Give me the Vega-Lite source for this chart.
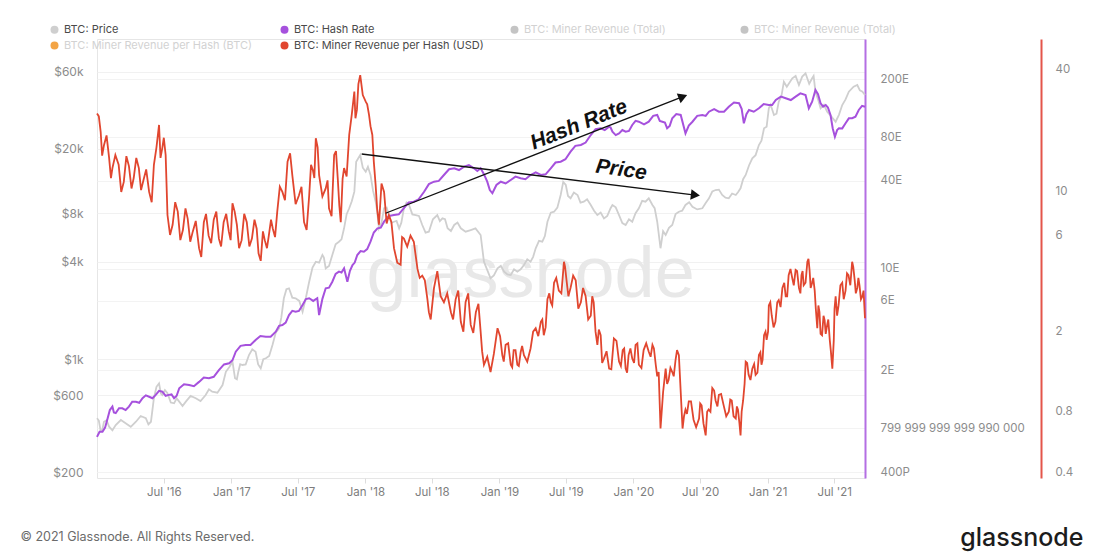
{
  "$schema": "https://vega.github.io/schema/vega-lite/v6.json",
  "width": 768,
  "height": 439,
  "autosize": {"type": "none"},
  "padding": {"left": 97, "top": 39, "right": 235, "bottom": 80},
  "background": "white",
  "config": {
    "view": {"stroke": "#e6e6e6", "strokeWidth": 1},
    "axis": {"labelFont": "Inter", "labelColor": "#8c8c8c", "labelFontSize": 11.5, "titleFont": "Inter"}
  },
  "datasets": {
    "price": [
      {"date": "2016-01-01", "v": 432}, {"date": "2016-01-11", "v": 360}, {"date": "2016-01-20", "v": 411},
      {"date": "2016-02-03", "v": 383}, {"date": "2016-02-21", "v": 392}, {"date": "2016-03-19", "v": 402},
      {"date": "2016-04-16", "v": 411}, {"date": "2016-05-13", "v": 432}, {"date": "2016-05-27", "v": 411},
      {"date": "2016-06-04", "v": 574}, {"date": "2016-06-18", "v": 710}, {"date": "2016-06-27", "v": 601},
      {"date": "2016-07-11", "v": 616}, {"date": "2016-07-29", "v": 534}, {"date": "2016-08-12", "v": 547},
      {"date": "2016-08-30", "v": 547}, {"date": "2016-09-26", "v": 574}, {"date": "2016-10-23", "v": 601},
      {"date": "2016-11-10", "v": 630}, {"date": "2016-12-08", "v": 693}, {"date": "2016-12-27", "v": 900},
      {"date": "2017-01-04", "v": 966}, {"date": "2017-01-11", "v": 763}, {"date": "2017-01-20", "v": 838},
      {"date": "2017-01-31", "v": 922}, {"date": "2017-02-18", "v": 1062}, {"date": "2017-03-08", "v": 1114},
      {"date": "2017-03-22", "v": 880}, {"date": "2017-04-05", "v": 1014}, {"date": "2017-04-23", "v": 1226},
      {"date": "2017-05-11", "v": 1554}, {"date": "2017-05-24", "v": 2383}, {"date": "2017-06-07", "v": 2748},
      {"date": "2017-06-25", "v": 2383}, {"date": "2017-07-14", "v": 1969}, {"date": "2017-08-01", "v": 3019},
      {"date": "2017-08-19", "v": 4013}, {"date": "2017-09-06", "v": 4416}, {"date": "2017-09-15", "v": 3652},
      {"date": "2017-10-03", "v": 4416}, {"date": "2017-10-21", "v": 5336}, {"date": "2017-11-04", "v": 6456},
      {"date": "2017-11-18", "v": 8590}, {"date": "2017-12-02", "v": 10880}, {"date": "2017-12-07", "v": 16680},
      {"date": "2017-12-18", "v": 18340}, {"date": "2018-01-02", "v": 14460}, {"date": "2018-01-15", "v": 13800},
      {"date": "2018-01-29", "v": 9430}, {"date": "2018-02-07", "v": 6456}, {"date": "2018-02-21", "v": 8590},
      {"date": "2018-03-06", "v": 7800}, {"date": "2018-03-20", "v": 7090}, {"date": "2018-04-03", "v": 6456},
      {"date": "2018-04-16", "v": 8590}, {"date": "2018-04-30", "v": 9000}, {"date": "2018-05-18", "v": 7800},
      {"date": "2018-06-05", "v": 6770}, {"date": "2018-06-23", "v": 6150}, {"date": "2018-07-16", "v": 7800},
      {"date": "2018-07-30", "v": 7440}, {"date": "2018-08-13", "v": 6456}, {"date": "2018-08-31", "v": 6770},
      {"date": "2018-09-18", "v": 6456}, {"date": "2018-10-15", "v": 6300}, {"date": "2018-11-11", "v": 5870},
      {"date": "2018-11-20", "v": 4013}, {"date": "2018-12-08", "v": 3170}, {"date": "2018-12-27", "v": 3650},
      {"date": "2019-01-14", "v": 3480}, {"date": "2019-02-01", "v": 3320}, {"date": "2019-02-19", "v": 3480},
      {"date": "2019-03-09", "v": 3830}, {"date": "2019-03-27", "v": 4013}, {"date": "2019-04-10", "v": 4860},
      {"date": "2019-04-28", "v": 5336}, {"date": "2019-05-12", "v": 7090}, {"date": "2019-05-30", "v": 8180},
      {"date": "2019-06-17", "v": 10380}, {"date": "2019-07-01", "v": 11960}, {"date": "2019-07-14", "v": 9900},
      {"date": "2019-08-02", "v": 10380}, {"date": "2019-08-19", "v": 9430}, {"date": "2019-09-07", "v": 9000},
      {"date": "2019-09-25", "v": 7800}, {"date": "2019-10-13", "v": 7440}, {"date": "2019-10-31", "v": 8590},
      {"date": "2019-11-05", "v": 9000}, {"date": "2019-11-23", "v": 7800}, {"date": "2019-12-11", "v": 6770},
      {"date": "2019-12-29", "v": 7090}, {"date": "2020-01-16", "v": 8590}, {"date": "2020-02-03", "v": 9430},
      {"date": "2020-02-22", "v": 9000}, {"date": "2020-03-06", "v": 7090}, {"date": "2020-03-15", "v": 4860},
      {"date": "2020-03-29", "v": 5870}, {"date": "2020-04-16", "v": 6770}, {"date": "2020-05-04", "v": 8180},
      {"date": "2020-05-22", "v": 9000}, {"date": "2020-06-10", "v": 8780}, {"date": "2020-07-07", "v": 8590},
      {"date": "2020-07-25", "v": 9900}, {"date": "2020-08-12", "v": 11140}, {"date": "2020-08-30", "v": 10380},
      {"date": "2020-09-17", "v": 9900}, {"date": "2020-10-06", "v": 10380}, {"date": "2020-10-19", "v": 11410},
      {"date": "2020-11-02", "v": 13800}, {"date": "2020-11-20", "v": 17500}, {"date": "2020-12-08", "v": 21140},
      {"date": "2020-12-22", "v": 26830}, {"date": "2021-01-04", "v": 35650}, {"date": "2021-01-18", "v": 32400},
      {"date": "2021-01-31", "v": 39180}, {"date": "2021-02-14", "v": 52080}, {"date": "2021-03-09", "v": 54660},
      {"date": "2021-03-27", "v": 49680}, {"date": "2021-04-14", "v": 58700}, {"date": "2021-05-02", "v": 54660},
      {"date": "2021-05-11", "v": 45170}, {"date": "2021-05-25", "v": 35650}, {"date": "2021-06-12", "v": 33960},
      {"date": "2021-07-05", "v": 29460}, {"date": "2021-07-23", "v": 37370}, {"date": "2021-08-10", "v": 45170},
      {"date": "2021-09-02", "v": 49680}, {"date": "2021-09-16", "v": 45170}, {"date": "2021-09-23", "v": 43080},
      {"date": "2016-01-06", "v": 418}, {"date": "2016-01-15", "v": 362}, {"date": "2016-01-27", "v": 420},
      {"date": "2016-02-12", "v": 364}, {"date": "2016-03-06", "v": 421}, {"date": "2016-04-02", "v": 382},
      {"date": "2016-04-29", "v": 446}, {"date": "2016-05-20", "v": 396}, {"date": "2016-06-11", "v": 676},
      {"date": "2016-06-23", "v": 614}, {"date": "2016-07-04", "v": 645}, {"date": "2016-07-20", "v": 540},
      {"date": "2016-08-05", "v": 573}, {"date": "2016-08-21", "v": 514}, {"date": "2016-09-12", "v": 594},
      {"date": "2016-10-09", "v": 552}, {"date": "2016-11-01", "v": 652}, {"date": "2016-11-24", "v": 621},
      {"date": "2016-12-17", "v": 837}, {"date": "2017-01-16", "v": 752}, {"date": "2017-01-25", "v": 932},
      {"date": "2017-02-09", "v": 930}, {"date": "2017-02-27", "v": 1153}, {"date": "2017-03-15", "v": 930},
      {"date": "2017-03-29", "v": 1002}, {"date": "2017-04-14", "v": 1048}, {"date": "2017-05-02", "v": 1463},
      {"date": "2017-05-17", "v": 1809}, {"date": "2017-05-31", "v": 2713}, {"date": "2017-06-16", "v": 2405},
      {"date": "2017-07-05", "v": 2296}, {"date": "2017-07-23", "v": 2400}, {"date": "2017-08-10", "v": 3690},
      {"date": "2017-08-28", "v": 3957}, {"date": "2017-09-10", "v": 4257}, {"date": "2017-09-24", "v": 3775},
      {"date": "2017-10-12", "v": 5145}, {"date": "2017-10-28", "v": 5517}, {"date": "2017-11-11", "v": 7894},
      {"date": "2017-11-25", "v": 9500}, {"date": "2017-12-25", "v": 15312}, {"date": "2018-01-08", "v": 15500},
      {"date": "2018-01-22", "v": 11000}, {"date": "2018-02-02", "v": 8268}, {"date": "2018-02-14", "v": 7000},
      {"date": "2018-02-28", "v": 8676}, {"date": "2018-03-13", "v": 6990}, {"date": "2018-03-27", "v": 7171},
      {"date": "2018-04-09", "v": 7000}, {"date": "2018-04-23", "v": 9320}, {"date": "2018-05-09", "v": 7876},
      {"date": "2018-05-27", "v": 7702}, {"date": "2018-06-14", "v": 6066}, {"date": "2018-07-04", "v": 7342},
      {"date": "2018-07-23", "v": 7161}, {"date": "2018-08-06", "v": 7346}, {"date": "2018-08-22", "v": 6214},
      {"date": "2018-09-09", "v": 7008}, {"date": "2018-10-01", "v": 6150}, {"date": "2018-10-28", "v": 6446},
      {"date": "2018-12-17", "v": 3300}, {"date": "2019-01-05", "v": 3778}, {"date": "2019-01-23", "v": 3350},
      {"date": "2019-02-10", "v": 3603}, {"date": "2019-02-28", "v": 3600}, {"date": "2019-03-18", "v": 4155},
      {"date": "2019-04-03", "v": 4300}, {"date": "2019-04-19", "v": 5398}, {"date": "2019-05-05", "v": 5781},
      {"date": "2019-05-21", "v": 8072}, {"date": "2019-06-08", "v": 8662}, {"date": "2019-06-24", "v": 12500},
      {"date": "2019-07-07", "v": 10228}, {"date": "2019-07-23", "v": 10745}, {"date": "2019-08-10", "v": 9300},
      {"date": "2019-08-28", "v": 9766}, {"date": "2019-09-16", "v": 8300}, {"date": "2019-10-04", "v": 8075},
      {"date": "2019-10-22", "v": 7700}, {"date": "2019-11-14", "v": 8700}, {"date": "2019-12-02", "v": 6950},
      {"date": "2019-12-20", "v": 7344}, {"date": "2020-01-07", "v": 8000}, {"date": "2020-01-25", "v": 9540},
      {"date": "2020-02-12", "v": 9900}, {"date": "2020-02-28", "v": 8600}, {"date": "2020-03-22", "v": 6200},
      {"date": "2020-04-07", "v": 6500}, {"date": "2020-04-25", "v": 7900}, {"date": "2020-05-13", "v": 8300},
      {"date": "2020-06-01", "v": 9350}, {"date": "2020-06-23", "v": 8450}, {"date": "2020-07-16", "v": 9250},
      {"date": "2020-08-03", "v": 10900}, {"date": "2020-08-21", "v": 11200}, {"date": "2020-09-08", "v": 10000},
      {"date": "2020-09-26", "v": 10600}, {"date": "2020-10-12", "v": 10800}, {"date": "2020-10-26", "v": 13000},
      {"date": "2020-11-11", "v": 15800}, {"date": "2020-11-29", "v": 18300}, {"date": "2020-12-15", "v": 22500},
      {"date": "2020-12-29", "v": 27400}, {"date": "2021-01-09", "v": 37500}, {"date": "2021-01-25", "v": 33000},
      {"date": "2021-02-07", "v": 42000}, {"date": "2021-02-22", "v": 48500}, {"date": "2021-03-18", "v": 56500},
      {"date": "2021-04-05", "v": 56000}, {"date": "2021-04-24", "v": 50500}, {"date": "2021-05-06", "v": 56500},
      {"date": "2021-05-18", "v": 40500}, {"date": "2021-06-03", "v": 37500}, {"date": "2021-06-22", "v": 32000},
      {"date": "2021-07-14", "v": 32500}, {"date": "2021-08-01", "v": 40500}, {"date": "2021-08-23", "v": 48500},
      {"date": "2021-09-09", "v": 46000}
    ],
    "hash": [
      {"date": "2016-01-01", "v": 0.70}, {"date": "2016-01-16", "v": 0.76}, {"date": "2016-01-30", "v": 0.94},
      {"date": "2016-02-12", "v": 1.13}, {"date": "2016-02-21", "v": 1.02}, {"date": "2016-03-10", "v": 1.10},
      {"date": "2016-03-28", "v": 1.13}, {"date": "2016-04-16", "v": 1.22}, {"date": "2016-05-04", "v": 1.29},
      {"date": "2016-05-22", "v": 1.32}, {"date": "2016-06-09", "v": 1.36}, {"date": "2016-06-27", "v": 1.43},
      {"date": "2016-07-15", "v": 1.36}, {"date": "2016-07-29", "v": 1.29}, {"date": "2016-08-12", "v": 1.51},
      {"date": "2016-09-08", "v": 1.59}, {"date": "2016-10-05", "v": 1.67}, {"date": "2016-11-01", "v": 1.77},
      {"date": "2016-11-28", "v": 2.01}, {"date": "2016-12-26", "v": 2.24}, {"date": "2017-01-13", "v": 2.69},
      {"date": "2017-02-09", "v": 2.99}, {"date": "2017-03-08", "v": 3.24}, {"date": "2017-04-05", "v": 3.41},
      {"date": "2017-05-02", "v": 3.69}, {"date": "2017-05-20", "v": 4.10}, {"date": "2017-06-07", "v": 4.80},
      {"date": "2017-06-25", "v": 5.06}, {"date": "2017-07-14", "v": 5.63}, {"date": "2017-08-01", "v": 6.26},
      {"date": "2017-08-23", "v": 6.26}, {"date": "2017-08-28", "v": 4.80}, {"date": "2017-09-15", "v": 7.33},
      {"date": "2017-10-03", "v": 8.13}, {"date": "2017-10-21", "v": 9.53}, {"date": "2017-11-04", "v": 10.05},
      {"date": "2017-11-13", "v": 8.13}, {"date": "2017-11-27", "v": 10.59}, {"date": "2017-12-10", "v": 12.4},
      {"date": "2017-12-28", "v": 13.06}, {"date": "2018-01-15", "v": 15.3}, {"date": "2018-02-03", "v": 18.9},
      {"date": "2018-02-21", "v": 21.0}, {"date": "2018-03-20", "v": 23.3}, {"date": "2018-04-16", "v": 26.0},
      {"date": "2018-05-13", "v": 28.8}, {"date": "2018-06-10", "v": 33.7}, {"date": "2018-07-07", "v": 39.5},
      {"date": "2018-08-03", "v": 43.9}, {"date": "2018-08-31", "v": 48.8}, {"date": "2018-09-27", "v": 50.1},
      {"date": "2018-10-24", "v": 48.8}, {"date": "2018-11-11", "v": 48.8}, {"date": "2018-11-29", "v": 39.5},
      {"date": "2018-12-13", "v": 32.9}, {"date": "2019-01-05", "v": 39.5}, {"date": "2019-02-01", "v": 40.6},
      {"date": "2019-02-28", "v": 41.7}, {"date": "2019-03-27", "v": 43.9}, {"date": "2019-04-24", "v": 43.9},
      {"date": "2019-05-21", "v": 48.8}, {"date": "2019-06-17", "v": 54.2}, {"date": "2019-07-14", "v": 63.5},
      {"date": "2019-08-11", "v": 70.6}, {"date": "2019-09-07", "v": 82.6}, {"date": "2019-10-04", "v": 91.8},
      {"date": "2019-10-27", "v": 94.2}, {"date": "2019-11-05", "v": 87.0}, {"date": "2019-11-23", "v": 84.8},
      {"date": "2019-12-11", "v": 87.0}, {"date": "2019-12-29", "v": 96.8}, {"date": "2020-01-16", "v": 101.9},
      {"date": "2020-02-12", "v": 101.9}, {"date": "2020-03-06", "v": 113.4}, {"date": "2020-03-20", "v": 101.9},
      {"date": "2020-04-02", "v": 91.8}, {"date": "2020-04-16", "v": 107.6}, {"date": "2020-05-09", "v": 113.4},
      {"date": "2020-05-22", "v": 84.8}, {"date": "2020-06-10", "v": 101.9}, {"date": "2020-07-07", "v": 113.4},
      {"date": "2020-07-25", "v": 119.4}, {"date": "2020-08-21", "v": 119.4}, {"date": "2020-09-17", "v": 129.2},
      {"date": "2020-10-15", "v": 136.4}, {"date": "2020-10-28", "v": 99.4}, {"date": "2020-11-11", "v": 122.7},
      {"date": "2020-12-08", "v": 126.0}, {"date": "2021-01-04", "v": 132.8}, {"date": "2021-01-23", "v": 143.7},
      {"date": "2021-02-19", "v": 147.6}, {"date": "2021-03-18", "v": 151.4}, {"date": "2021-04-14", "v": 155.5},
      {"date": "2021-04-23", "v": 126.0}, {"date": "2021-05-11", "v": 168.3}, {"date": "2021-05-25", "v": 136.4},
      {"date": "2021-06-08", "v": 132.8}, {"date": "2021-06-21", "v": 113.4}, {"date": "2021-07-03", "v": 80.4},
      {"date": "2021-07-14", "v": 91.8}, {"date": "2021-08-01", "v": 99.4}, {"date": "2021-08-19", "v": 107.6},
      {"date": "2021-09-06", "v": 122.7}, {"date": "2021-09-23", "v": 129.2},
      {"date": "2016-01-08", "v": 0.76}, {"date": "2016-01-23", "v": 0.81}, {"date": "2016-02-05", "v": 1.07},
      {"date": "2016-02-16", "v": 1.03}, {"date": "2016-03-01", "v": 1.10}, {"date": "2016-03-19", "v": 1.07},
      {"date": "2016-04-06", "v": 1.22}, {"date": "2016-04-25", "v": 1.20}, {"date": "2016-05-13", "v": 1.35},
      {"date": "2016-05-31", "v": 1.29}, {"date": "2016-06-18", "v": 1.45}, {"date": "2016-07-06", "v": 1.34},
      {"date": "2016-07-22", "v": 1.37}, {"date": "2016-08-05", "v": 1.34}, {"date": "2016-08-25", "v": 1.61},
      {"date": "2016-09-21", "v": 1.56}, {"date": "2016-10-18", "v": 1.79}, {"date": "2016-11-14", "v": 1.81},
      {"date": "2016-12-12", "v": 2.2}, {"date": "2017-01-04", "v": 2.35}, {"date": "2017-01-26", "v": 2.95},
      {"date": "2017-02-22", "v": 2.99}, {"date": "2017-03-21", "v": 3.45}, {"date": "2017-04-18", "v": 3.41},
      {"date": "2017-05-11", "v": 4.05}, {"date": "2017-05-29", "v": 4.26}, {"date": "2017-06-16", "v": 5.13},
      {"date": "2017-07-04", "v": 5.12}, {"date": "2017-07-23", "v": 6.18}, {"date": "2017-08-12", "v": 6.0},
      {"date": "2017-09-06", "v": 6.2}, {"date": "2017-09-24", "v": 7.4}, {"date": "2017-10-12", "v": 9.2},
      {"date": "2017-10-28", "v": 9.4}, {"date": "2017-11-20", "v": 9.65}, {"date": "2017-12-03", "v": 11.0},
      {"date": "2017-12-19", "v": 13.2}, {"date": "2018-01-06", "v": 13.6}, {"date": "2018-01-24", "v": 17.7},
      {"date": "2018-02-12", "v": 19.1}, {"date": "2018-03-06", "v": 23.0}, {"date": "2018-04-02", "v": 23.6},
      {"date": "2018-04-29", "v": 28.5}, {"date": "2018-05-26", "v": 29.9}, {"date": "2018-06-23", "v": 38.0},
      {"date": "2018-07-20", "v": 40.0}, {"date": "2018-08-17", "v": 48.1}, {"date": "2018-09-13", "v": 47.5},
      {"date": "2018-10-10", "v": 51.4}, {"date": "2018-11-02", "v": 46.8}, {"date": "2018-11-20", "v": 44.5},
      {"date": "2018-12-06", "v": 34.6}, {"date": "2018-12-24", "v": 37.5}, {"date": "2019-01-18", "v": 38.4},
      {"date": "2019-02-14", "v": 42.8}, {"date": "2019-03-13", "v": 41.1}, {"date": "2019-04-10", "v": 45.7},
      {"date": "2019-05-07", "v": 44.4}, {"date": "2019-06-03", "v": 53.5}, {"date": "2019-06-30", "v": 56.3},
      {"date": "2019-07-27", "v": 69.6}, {"date": "2019-08-24", "v": 73.3}, {"date": "2019-09-20", "v": 90.5},
      {"date": "2019-10-15", "v": 89.3}, {"date": "2019-10-31", "v": 93.0}, {"date": "2019-11-14", "v": 82.5},
      {"date": "2019-12-02", "v": 89.3}, {"date": "2019-12-20", "v": 88.1}, {"date": "2020-01-07", "v": 103.3},
      {"date": "2020-01-30", "v": 97.8}, {"date": "2020-02-24", "v": 111.8}, {"date": "2020-03-13", "v": 103.2},
      {"date": "2020-03-27", "v": 100.5}, {"date": "2020-04-09", "v": 95.4}, {"date": "2020-04-27", "v": 114.9},
      {"date": "2020-05-31", "v": 96.0}, {"date": "2020-06-23", "v": 111.8}, {"date": "2020-07-16", "v": 111.7},
      {"date": "2020-08-08", "v": 124.2}, {"date": "2020-09-04", "v": 119.2}, {"date": "2020-10-01", "v": 138.1},
      {"date": "2020-10-22", "v": 125.0}, {"date": "2020-11-04", "v": 114.8}, {"date": "2020-11-24", "v": 119.3},
      {"date": "2020-12-21", "v": 134.6}, {"date": "2021-01-13", "v": 132.6}, {"date": "2021-02-06", "v": 151.4},
      {"date": "2021-03-05", "v": 143.5}, {"date": "2021-03-31", "v": 159.6}, {"date": "2021-05-02", "v": 139.8},
      {"date": "2021-05-18", "v": 157.6}, {"date": "2021-06-01", "v": 129.2}, {"date": "2021-06-14", "v": 127.6},
      {"date": "2021-06-27", "v": 92.0}, {"date": "2021-07-09", "v": 89.3}, {"date": "2021-07-23", "v": 91.7},
      {"date": "2021-08-10", "v": 107.5}, {"date": "2021-08-28", "v": 110.3}, {"date": "2021-09-15", "v": 130.9}
    ],
    "rev": [
      {"date": "2016-01-01", "v": 24.3}, {"date": "2016-01-11", "v": 19.7}, {"date": "2016-01-20", "v": 16.9},
      {"date": "2016-02-03", "v": 14.6}, {"date": "2016-02-12", "v": 13.0}, {"date": "2016-02-29", "v": 13.5},
      {"date": "2016-03-14", "v": 11.1}, {"date": "2016-03-28", "v": 13.3}, {"date": "2016-04-10", "v": 11.6},
      {"date": "2016-04-24", "v": 13.0}, {"date": "2016-05-07", "v": 11.4}, {"date": "2016-05-22", "v": 9.9},
      {"date": "2016-06-04", "v": 13.5}, {"date": "2016-06-18", "v": 21.3}, {"date": "2016-06-27", "v": 16.4},
      {"date": "2016-07-06", "v": 15.1}, {"date": "2016-07-11", "v": 7.6}, {"date": "2016-07-25", "v": 6.8},
      {"date": "2016-08-08", "v": 7.9}, {"date": "2016-08-22", "v": 6.4}, {"date": "2016-09-04", "v": 7.3},
      {"date": "2016-09-18", "v": 6.3}, {"date": "2016-10-05", "v": 5.2}, {"date": "2016-10-18", "v": 7.0},
      {"date": "2016-10-31", "v": 6.0}, {"date": "2016-11-14", "v": 7.2}, {"date": "2016-11-28", "v": 5.8},
      {"date": "2016-12-11", "v": 7.0}, {"date": "2016-12-25", "v": 6.3}, {"date": "2017-01-04", "v": 8.7},
      {"date": "2017-01-16", "v": 6.8}, {"date": "2017-01-29", "v": 5.7}, {"date": "2017-02-12", "v": 7.0},
      {"date": "2017-02-26", "v": 5.8}, {"date": "2017-03-11", "v": 6.5}, {"date": "2017-03-22", "v": 4.5},
      {"date": "2017-04-02", "v": 5.7}, {"date": "2017-04-13", "v": 6.0}, {"date": "2017-04-24", "v": 6.5},
      {"date": "2017-05-06", "v": 7.9}, {"date": "2017-05-20", "v": 9.9}, {"date": "2017-06-03", "v": 14.0},
      {"date": "2017-06-16", "v": 12.0}, {"date": "2017-07-04", "v": 9.5}, {"date": "2017-07-18", "v": 7.0},
      {"date": "2017-08-01", "v": 9.5}, {"date": "2017-08-11", "v": 12.7}, {"date": "2017-08-19", "v": 18.3},
      {"date": "2017-08-28", "v": 12.0}, {"date": "2017-09-15", "v": 10.3}, {"date": "2017-09-24", "v": 8.2},
      {"date": "2017-10-08", "v": 15.1}, {"date": "2017-10-18", "v": 11.4}, {"date": "2017-10-26", "v": 7.0},
      {"date": "2017-11-04", "v": 13.0}, {"date": "2017-11-18", "v": 19.0}, {"date": "2017-12-02", "v": 31.2},
      {"date": "2017-12-09", "v": 25.3}, {"date": "2017-12-18", "v": 37.7}, {"date": "2018-01-02", "v": 27.8},
      {"date": "2018-01-11", "v": 23.9}, {"date": "2018-01-20", "v": 19.0}, {"date": "2018-01-29", "v": 10.7},
      {"date": "2018-02-07", "v": 6.8}, {"date": "2018-02-21", "v": 9.9}, {"date": "2018-03-06", "v": 7.6},
      {"date": "2018-03-20", "v": 5.2}, {"date": "2018-04-07", "v": 4.3}, {"date": "2018-04-16", "v": 5.8},
      {"date": "2018-05-04", "v": 6.0}, {"date": "2018-05-23", "v": 4.1}, {"date": "2018-06-05", "v": 3.8},
      {"date": "2018-06-19", "v": 2.9}, {"date": "2018-06-28", "v": 2.3}, {"date": "2018-07-16", "v": 4.0},
      {"date": "2018-08-03", "v": 2.8}, {"date": "2018-08-22", "v": 2.5}, {"date": "2018-09-04", "v": 2.9},
      {"date": "2018-09-18", "v": 2.24}, {"date": "2018-10-01", "v": 2.8}, {"date": "2018-10-15", "v": 2.16},
      {"date": "2018-10-29", "v": 2.5}, {"date": "2018-11-11", "v": 2.0}, {"date": "2018-11-20", "v": 1.37},
      {"date": "2018-12-08", "v": 1.26}, {"date": "2018-12-27", "v": 2.08}, {"date": "2019-01-09", "v": 1.53},
      {"date": "2019-01-18", "v": 1.72}, {"date": "2019-02-01", "v": 1.37}, {"date": "2019-02-09", "v": 1.62},
      {"date": "2019-02-19", "v": 1.37}, {"date": "2019-02-28", "v": 1.58}, {"date": "2019-03-09", "v": 1.53},
      {"date": "2019-03-27", "v": 1.65}, {"date": "2019-04-10", "v": 2.08}, {"date": "2019-04-24", "v": 2.24},
      {"date": "2019-05-02", "v": 1.92}, {"date": "2019-05-12", "v": 2.9}, {"date": "2019-05-21", "v": 2.8},
      {"date": "2019-05-30", "v": 3.5}, {"date": "2019-06-12", "v": 3.2}, {"date": "2019-06-26", "v": 4.45},
      {"date": "2019-07-03", "v": 3.6}, {"date": "2019-07-14", "v": 3.3}, {"date": "2019-07-28", "v": 3.6},
      {"date": "2019-08-11", "v": 2.8}, {"date": "2019-08-24", "v": 3.0}, {"date": "2019-09-07", "v": 2.4},
      {"date": "2019-09-15", "v": 2.8}, {"date": "2019-09-25", "v": 1.72}, {"date": "2019-10-04", "v": 1.92},
      {"date": "2019-10-13", "v": 1.47}, {"date": "2019-10-27", "v": 1.31}, {"date": "2019-11-09", "v": 1.85},
      {"date": "2019-11-23", "v": 1.42}, {"date": "2019-12-03", "v": 1.62}, {"date": "2019-12-11", "v": 1.31},
      {"date": "2019-12-19", "v": 1.53}, {"date": "2019-12-29", "v": 1.47}, {"date": "2020-01-07", "v": 1.72},
      {"date": "2020-01-16", "v": 1.37}, {"date": "2020-01-29", "v": 1.62}, {"date": "2020-02-12", "v": 1.59},
      {"date": "2020-02-22", "v": 1.72}, {"date": "2020-03-02", "v": 1.37}, {"date": "2020-03-10", "v": 1.26},
      {"date": "2020-03-15", "v": 0.66}, {"date": "2020-03-29", "v": 1.31}, {"date": "2020-04-06", "v": 1.15},
      {"date": "2020-04-16", "v": 1.26}, {"date": "2020-04-25", "v": 1.45}, {"date": "2020-05-04", "v": 1.53},
      {"date": "2020-05-14", "v": 0.66}, {"date": "2020-05-22", "v": 0.82}, {"date": "2020-05-31", "v": 0.90},
      {"date": "2020-06-13", "v": 0.73}, {"date": "2020-06-28", "v": 0.74}, {"date": "2020-07-05", "v": 0.86},
      {"date": "2020-07-16", "v": 0.61}, {"date": "2020-07-24", "v": 0.82}, {"date": "2020-08-03", "v": 1.05},
      {"date": "2020-08-12", "v": 0.91}, {"date": "2020-08-21", "v": 0.97}, {"date": "2020-09-03", "v": 0.86},
      {"date": "2020-09-17", "v": 0.80}, {"date": "2020-09-25", "v": 0.91}, {"date": "2020-10-06", "v": 0.74},
      {"date": "2020-10-12", "v": 0.82}, {"date": "2020-10-19", "v": 0.61}, {"date": "2020-10-26", "v": 0.91},
      {"date": "2020-11-02", "v": 1.42}, {"date": "2020-11-10", "v": 1.22}, {"date": "2020-11-20", "v": 1.31},
      {"date": "2020-11-29", "v": 1.22}, {"date": "2020-12-08", "v": 1.53}, {"date": "2020-12-15", "v": 1.37},
      {"date": "2020-12-22", "v": 1.92}, {"date": "2020-12-29", "v": 1.82}, {"date": "2021-01-04", "v": 2.7},
      {"date": "2021-01-12", "v": 2.4}, {"date": "2021-01-22", "v": 2.24}, {"date": "2021-01-31", "v": 2.87},
      {"date": "2021-02-10", "v": 3.3}, {"date": "2021-02-19", "v": 3.0}, {"date": "2021-02-27", "v": 3.82},
      {"date": "2021-03-09", "v": 3.68}, {"date": "2021-03-18", "v": 4.05}, {"date": "2021-03-27", "v": 3.3},
      {"date": "2021-04-03", "v": 3.82}, {"date": "2021-04-09", "v": 3.4}, {"date": "2021-04-19", "v": 4.45},
      {"date": "2021-04-25", "v": 4.05}, {"date": "2021-05-02", "v": 3.5}, {"date": "2021-05-09", "v": 3.2},
      {"date": "2021-05-16", "v": 2.08}, {"date": "2021-05-22", "v": 2.5}, {"date": "2021-05-29", "v": 1.92},
      {"date": "2021-06-05", "v": 2.28}, {"date": "2021-06-12", "v": 2.16}, {"date": "2021-06-19", "v": 1.82},
      {"date": "2021-06-26", "v": 1.31}, {"date": "2021-06-30", "v": 1.82}, {"date": "2021-07-05", "v": 3.0},
      {"date": "2021-07-13", "v": 2.7}, {"date": "2021-07-23", "v": 3.5}, {"date": "2021-08-01", "v": 3.2},
      {"date": "2021-08-09", "v": 3.82}, {"date": "2021-08-19", "v": 4.45}, {"date": "2021-08-26", "v": 3.6},
      {"date": "2021-09-02", "v": 3.3}, {"date": "2021-09-08", "v": 3.4}, {"date": "2021-09-16", "v": 3.0},
      {"date": "2021-09-23", "v": 2.33},
      {"date": "2016-01-06", "v": 23.5}, {"date": "2016-01-15", "v": 15.0}, {"date": "2016-01-27", "v": 18.9},
      {"date": "2016-02-08", "v": 11.6}, {"date": "2016-02-20", "v": 15.1}, {"date": "2016-03-07", "v": 9.9},
      {"date": "2016-03-21", "v": 14.9}, {"date": "2016-04-04", "v": 10.3}, {"date": "2016-04-17", "v": 14.6},
      {"date": "2016-04-30", "v": 10.1}, {"date": "2016-05-14", "v": 12.8}, {"date": "2016-05-29", "v": 8.8},
      {"date": "2016-06-11", "v": 16.5}, {"date": "2016-06-22", "v": 14.6}, {"date": "2016-07-01", "v": 18.4},
      {"date": "2016-07-18", "v": 6.05}, {"date": "2016-08-01", "v": 8.8}, {"date": "2016-08-15", "v": 5.7},
      {"date": "2016-08-29", "v": 8.2}, {"date": "2016-09-11", "v": 5.6}, {"date": "2016-09-26", "v": 7.1},
      {"date": "2016-10-11", "v": 4.7}, {"date": "2016-10-24", "v": 7.7}, {"date": "2016-11-07", "v": 5.5},
      {"date": "2016-11-21", "v": 7.9}, {"date": "2016-12-04", "v": 5.3}, {"date": "2016-12-18", "v": 7.7},
      {"date": "2016-12-30", "v": 5.7}, {"date": "2017-01-10", "v": 7.9}, {"date": "2017-01-22", "v": 5.2},
      {"date": "2017-02-05", "v": 7.7}, {"date": "2017-02-19", "v": 5.3}, {"date": "2017-03-05", "v": 7.2},
      {"date": "2017-03-16", "v": 4.9}, {"date": "2017-03-28", "v": 6.3}, {"date": "2017-04-08", "v": 5.2},
      {"date": "2017-04-19", "v": 7.2}, {"date": "2017-04-30", "v": 5.9}, {"date": "2017-05-13", "v": 10.5},
      {"date": "2017-05-27", "v": 9.0}, {"date": "2017-06-10", "v": 15.4}, {"date": "2017-06-25", "v": 8.6},
      {"date": "2017-07-11", "v": 10.5}, {"date": "2017-07-25", "v": 6.4}, {"date": "2017-08-06", "v": 13.5},
      {"date": "2017-08-15", "v": 11.6}, {"date": "2017-08-24", "v": 16.5}, {"date": "2017-09-06", "v": 9.4},
      {"date": "2017-09-20", "v": 11.3}, {"date": "2017-10-01", "v": 7.5}, {"date": "2017-10-13", "v": 15.8},
      {"date": "2017-10-22", "v": 8.5}, {"date": "2017-10-31", "v": 11.5}, {"date": "2017-11-11", "v": 11.8},
      {"date": "2017-11-25", "v": 24.0}, {"date": "2017-12-05", "v": 23.0}, {"date": "2017-12-13", "v": 34.0},
      {"date": "2017-12-25", "v": 30.0}, {"date": "2018-01-06", "v": 27.0}, {"date": "2018-01-15", "v": 21.0},
      {"date": "2018-01-24", "v": 14.0}, {"date": "2018-02-02", "v": 8.2}, {"date": "2018-02-14", "v": 10.9},
      {"date": "2018-02-28", "v": 6.9}, {"date": "2018-03-13", "v": 7.0}, {"date": "2018-03-29", "v": 4.4},
      {"date": "2018-04-11", "v": 5.9}, {"date": "2018-04-25", "v": 5.3}, {"date": "2018-05-13", "v": 5.6},
      {"date": "2018-05-29", "v": 3.7}, {"date": "2018-06-12", "v": 3.6}, {"date": "2018-06-23", "v": 2.5},
      {"date": "2018-07-07", "v": 3.3}, {"date": "2018-07-25", "v": 3.0}, {"date": "2018-08-12", "v": 3.1},
      {"date": "2018-08-28", "v": 2.3}, {"date": "2018-09-11", "v": 3.2}, {"date": "2018-09-25", "v": 2.0},
      {"date": "2018-10-08", "v": 3.1}, {"date": "2018-10-22", "v": 1.97}, {"date": "2018-11-05", "v": 2.75},
      {"date": "2018-11-15", "v": 1.6}, {"date": "2018-11-29", "v": 1.5}, {"date": "2018-12-17", "v": 1.55},
      {"date": "2019-01-03", "v": 1.9}, {"date": "2019-01-13", "v": 1.42}, {"date": "2019-01-25", "v": 1.75},
      {"date": "2019-02-05", "v": 1.33}, {"date": "2019-02-14", "v": 1.62}, {"date": "2019-02-23", "v": 1.35},
      {"date": "2019-03-04", "v": 1.7}, {"date": "2019-03-18", "v": 1.42}, {"date": "2019-04-03", "v": 2.0},
      {"date": "2019-04-17", "v": 1.9}, {"date": "2019-04-28", "v": 2.3}, {"date": "2019-05-07", "v": 2.1},
      {"date": "2019-05-17", "v": 3.1}, {"date": "2019-05-25", "v": 2.7}, {"date": "2019-06-05", "v": 3.7},
      {"date": "2019-06-19", "v": 3.1}, {"date": "2019-06-29", "v": 4.2}, {"date": "2019-07-08", "v": 3.0},
      {"date": "2019-07-21", "v": 3.8}, {"date": "2019-08-04", "v": 2.6}, {"date": "2019-08-17", "v": 3.3},
      {"date": "2019-08-31", "v": 2.3}, {"date": "2019-09-11", "v": 3.0}, {"date": "2019-09-20", "v": 2.0},
      {"date": "2019-09-29", "v": 2.05}, {"date": "2019-10-08", "v": 1.4}, {"date": "2019-10-20", "v": 1.6},
      {"date": "2019-11-02", "v": 1.3}, {"date": "2019-11-16", "v": 1.8}, {"date": "2019-11-28", "v": 1.35},
      {"date": "2019-12-07", "v": 1.65}, {"date": "2019-12-15", "v": 1.25}, {"date": "2019-12-24", "v": 1.65},
      {"date": "2020-01-03", "v": 1.4}, {"date": "2020-01-12", "v": 1.75}, {"date": "2020-01-23", "v": 1.32},
      {"date": "2020-02-05", "v": 1.75}, {"date": "2020-02-17", "v": 1.5}, {"date": "2020-02-26", "v": 1.65},
      {"date": "2020-03-06", "v": 1.2}, {"date": "2020-03-22", "v": 1.0}, {"date": "2020-04-02", "v": 1.1},
      {"date": "2020-04-11", "v": 1.32}, {"date": "2020-04-20", "v": 1.2}, {"date": "2020-04-29", "v": 1.62},
      {"date": "2020-05-18", "v": 0.76}, {"date": "2020-05-26", "v": 0.78}, {"date": "2020-06-06", "v": 0.9},
      {"date": "2020-06-20", "v": 0.67}, {"date": "2020-07-01", "v": 0.88}, {"date": "2020-07-10", "v": 0.7},
      {"date": "2020-07-20", "v": 0.8}, {"date": "2020-07-29", "v": 0.8}, {"date": "2020-08-08", "v": 1.02},
      {"date": "2020-08-17", "v": 0.85}, {"date": "2020-08-27", "v": 0.98}, {"date": "2020-09-10", "v": 0.76},
      {"date": "2020-09-21", "v": 0.92}, {"date": "2020-09-30", "v": 0.76}, {"date": "2020-10-09", "v": 0.85},
      {"date": "2020-10-16", "v": 0.7}, {"date": "2020-10-22", "v": 0.8}, {"date": "2020-10-30", "v": 1.1},
      {"date": "2020-11-06", "v": 1.4}, {"date": "2020-11-15", "v": 1.15}, {"date": "2020-11-25", "v": 1.38},
      {"date": "2020-12-04", "v": 1.25}, {"date": "2020-12-12", "v": 1.58}, {"date": "2020-12-18", "v": 1.45},
      {"date": "2020-12-26", "v": 2.0}, {"date": "2021-01-02", "v": 2.0}, {"date": "2021-01-08", "v": 2.8},
      {"date": "2021-01-17", "v": 2.1}, {"date": "2021-01-27", "v": 2.8}, {"date": "2021-02-05", "v": 2.65},
      {"date": "2021-02-15", "v": 3.5}, {"date": "2021-02-23", "v": 3.0}, {"date": "2021-03-04", "v": 4.1},
      {"date": "2021-03-13", "v": 3.4}, {"date": "2021-03-22", "v": 4.0}, {"date": "2021-03-31", "v": 3.1},
      {"date": "2021-04-06", "v": 4.0}, {"date": "2021-04-14", "v": 3.5}, {"date": "2021-04-22", "v": 4.6},
      {"date": "2021-04-28", "v": 3.3}, {"date": "2021-05-05", "v": 3.7}, {"date": "2021-05-12", "v": 2.6},
      {"date": "2021-05-19", "v": 2.7}, {"date": "2021-05-25", "v": 1.95}, {"date": "2021-06-02", "v": 2.4},
      {"date": "2021-06-08", "v": 1.95}, {"date": "2021-06-15", "v": 2.3}, {"date": "2021-06-22", "v": 1.6},
      {"date": "2021-07-02", "v": 2.6}, {"date": "2021-07-09", "v": 2.4}, {"date": "2021-07-18", "v": 3.4},
      {"date": "2021-07-27", "v": 2.9}, {"date": "2021-08-05", "v": 3.9}, {"date": "2021-08-14", "v": 3.4},
      {"date": "2021-08-22", "v": 4.2}, {"date": "2021-08-29", "v": 3.1}, {"date": "2021-09-05", "v": 3.7},
      {"date": "2021-09-12", "v": 2.9}, {"date": "2021-09-19", "v": 3.2}
    ],
    "arrows": [
      {"name": "hash", "date": "2018-02-25", "p": 8000, "date2": "2020-05-15", "p2": 42060},
      {"name": "price", "date": "2017-12-22", "p": 18600, "date2": "2020-06-18", "p2": 10370}
    ],
    "notes": [
      {"name": "hash", "date": "2019-08-06", "p": 28100, "label": "Hash Rate"},
      {"name": "price", "date": "2019-11-29", "p": 14810, "label": "Price"}
    ],
    "mark": [
      {"date": "2019-03-27", "p": 2428, "label": "glassnode"}
    ]
  },
  "layer": [
    {
      "data": {"name": "mark"},
      "mark": {"type": "text", "font": "Liberation Sans", "fontSize": 72, "color": "#e8e8e8", "align": "center", "baseline": "alphabetic"},
      "encoding": {
        "x": {"field": "date", "type": "temporal", "scale": {"type": "utc", "domain": [{"year": 2016, "month": 1, "date": 1, "utc": true}, {"year": 2021, "month": 9, "date": 23, "utc": true}]}},
        "y": {"field": "p", "type": "quantitative", "scale": {"type": "log", "domain": [184.4, 95680], "nice": false, "zero": false}, "axis": null},
        "text": {"field": "label"}
      }
    },
    {
      "data": {"name": "price"},
      "mark": {"type": "line", "strokeWidth": 1.8, "interpolate": "linear"},
      "encoding": {
        "x": {
          "field": "date", "type": "temporal",
          "scale": {"type": "utc", "domain": [{"year": 2016, "month": 1, "date": 1, "utc": true}, {"year": 2021, "month": 9, "date": 23, "utc": true}]},
          "axis": {
            "values": [
              {"year": 2016, "month": 7, "date": 1, "utc": true}, {"year": 2017, "month": 1, "date": 1, "utc": true},
              {"year": 2017, "month": 7, "date": 1, "utc": true}, {"year": 2018, "month": 1, "date": 1, "utc": true},
              {"year": 2018, "month": 7, "date": 1, "utc": true}, {"year": 2019, "month": 1, "date": 1, "utc": true},
              {"year": 2019, "month": 7, "date": 1, "utc": true}, {"year": 2020, "month": 1, "date": 1, "utc": true},
              {"year": 2020, "month": 7, "date": 1, "utc": true}, {"year": 2021, "month": 1, "date": 1, "utc": true},
              {"year": 2021, "month": 7, "date": 1, "utc": true}
            ],
            "labelExpr": "utcFormat(datum.value, \"%b '%y\")",
            "grid": false, "domain": false, "ticks": true, "tickColor": "#dddddd", "tickSize": 5,
            "labelPadding": 3, "labelColor": "#7d7d7d", "labelFontSize": 11.5,
            "title": "© 2021 Glassnode. All Rights Reserved.",
            "titleAlign": "left", "titleAnchor": "start", "titleX": -77, "titleY": 58, "titleBaseline": "middle",
            "titleFontSize": 12.5, "titleFontWeight": "normal", "titleColor": "#6b6b6b"
          }
        },
        "y": {
          "field": "v", "type": "quantitative",
          "scale": {"type": "log", "domain": [184.4, 95680], "nice": false, "zero": false},
          "axis": {
            "orient": "left", "title": null,
            "values": [200, 600, 1000, 4000, 8000, 20000, 60000],
            "labelExpr": "datum.value >= 1000 ? '$' + (datum.value / 1000) + 'k' : '$' + datum.value",
            "domain": false, "ticks": false, "labelPadding": 14, "grid": true, "gridColor": "#f1f1f1",
            "labelColor": "#8c8c8c", "labelFontSize": 12
          }
        },
        "color": {
          "datum": "BTC: Price",
          "scale": {
            "domain": ["BTC: Price", "BTC: Hash Rate", "BTC: Miner Revenue (Total)", "BTC: Miner Revenue (Total) ", "BTC: Miner Revenue per Hash (BTC)", "BTC: Miner Revenue per Hash (USD)"],
            "range": ["#cfcfcf", "#a651dd", "#c4c4c4", "#c4c4c4", "#f3a445", "#e1462f"]
          },
          "legend": {
            "orient": "none", "legendX": -48, "legendY": -15, "direction": "horizontal", "columns": 4,
            "title": null, "symbolType": "circle", "symbolSize": 64, "symbolStrokeWidth": 0,
            "labelFont": "Inter", "labelFontSize": 11, "labelColor": "#4a4a4a", "labelOffset": 4, "labelLimit": 400,
            "gridAlign": "all", "columnPadding": 25, "rowPadding": 4, "padding": 0,
            "encode": {
              "symbols": {"update": {"fill": {"signal": "scale('color', datum.value)"}, "fillOpacity": {"value": 1}, "opacity": {"value": 1}}},
              "labels": {"update": {"fill": {"signal": "indexof(['BTC: Price','BTC: Hash Rate','BTC: Miner Revenue per Hash (USD)'], datum.value) >= 0 ? '#4a4a4a' : '#d2d2d2'"}}}
            }
          }
        }
      }
    },
    {
      "data": {"name": "hash"},
      "mark": {"type": "line", "strokeWidth": 2},
      "encoding": {
        "x": {"field": "date", "type": "temporal", "scale": {"type": "utc", "domain": [{"year": 2016, "month": 1, "date": 1, "utc": true}, {"year": 2021, "month": 9, "date": 23, "utc": true}]}},
        "y": {
          "field": "v", "type": "quantitative",
          "scale": {"type": "log", "domain": [0.3656, 376.6], "nice": false, "zero": false},
          "axis": {
            "orient": "right", "title": null,
            "values": [0.4, 0.8, 2, 6, 10, 40, 80, 200],
            "labelExpr": "datum.value == 0.4 ? '400P' : datum.value == 0.8 ? '799 999 999 999 990 000' : datum.value + 'E'",
            "domain": true, "domainColor": "#b46fe3", "domainWidth": 2, "ticks": false, "labelPadding": 15,
            "grid": true, "gridColor": "#f3f3f3", "labelColor": "#8c8c8c", "labelFontSize": 11.5
          }
        },
        "color": {"datum": "BTC: Hash Rate"}
      }
    },
    {
      "data": {"name": "rev"},
      "mark": {"type": "line", "strokeWidth": 1.8},
      "encoding": {
        "x": {"field": "date", "type": "temporal", "scale": {"type": "utc", "domain": [{"year": 2016, "month": 1, "date": 1, "utc": true}, {"year": 2021, "month": 9, "date": 23, "utc": true}]}},
        "y": {
          "field": "v", "type": "quantitative",
          "scale": {"type": "log", "domain": [0.3748, 56.96], "nice": false, "zero": false},
          "axis": {
            "orient": "right", "offset": 176, "title": "glassnode",
            "values": [0.4, 0.8, 2, 6, 10, 40],
            "domain": true, "domainColor": "#e4554a", "domainWidth": 2, "ticks": false, "labelPadding": 14,
            "grid": false, "labelColor": "#8c8c8c", "labelFontSize": 11.5,
            "titleAngle": 0, "titleAlign": "right", "titleX": 42, "titleY": 498, "titleBaseline": "middle",
            "titleFontSize": 25, "titleFontWeight": 500, "titleColor": "#1c1c1c", "titleFont": "Inter"
          }
        },
        "color": {"datum": "BTC: Miner Revenue per Hash (USD)"}
      }
    },
    {
      "data": {"name": "arrows"},
      "mark": {"type": "rule", "color": "#111111", "strokeWidth": 1.3},
      "encoding": {
        "x": {"field": "date", "type": "temporal", "scale": {"type": "utc", "domain": [{"year": 2016, "month": 1, "date": 1, "utc": true}, {"year": 2021, "month": 9, "date": 23, "utc": true}]}},
        "x2": {"field": "date2"},
        "y": {"field": "p", "type": "quantitative", "scale": {"type": "log", "domain": [184.4, 95680], "nice": false, "zero": false}, "axis": null},
        "y2": {"field": "p2"}
      }
    },
    {
      "data": {"name": "arrows"},
      "transform": [{"filter": "datum.name == 'hash'"}],
      "mark": {"type": "point", "shape": "triangle-right", "filled": true, "color": "#111111", "size": 110, "angle": -21.3, "opacity": 1},
      "encoding": {
        "x": {"field": "date2", "type": "temporal", "scale": {"type": "utc", "domain": [{"year": 2016, "month": 1, "date": 1, "utc": true}, {"year": 2021, "month": 9, "date": 23, "utc": true}]}},
        "y": {"field": "p2", "type": "quantitative", "scale": {"type": "log", "domain": [184.4, 95680], "nice": false, "zero": false}, "axis": null}
      }
    },
    {
      "data": {"name": "arrows"},
      "transform": [{"filter": "datum.name == 'price'"}],
      "mark": {"type": "point", "shape": "triangle-right", "filled": true, "color": "#111111", "size": 110, "angle": 7, "opacity": 1},
      "encoding": {
        "x": {"field": "date2", "type": "temporal", "scale": {"type": "utc", "domain": [{"year": 2016, "month": 1, "date": 1, "utc": true}, {"year": 2021, "month": 9, "date": 23, "utc": true}]}},
        "y": {"field": "p2", "type": "quantitative", "scale": {"type": "log", "domain": [184.4, 95680], "nice": false, "zero": false}, "axis": null}
      }
    },
    {
      "data": {"name": "notes"},
      "transform": [{"filter": "datum.name == 'hash'"}],
      "mark": {"type": "text", "font": "Liberation Sans", "fontSize": 21, "fontWeight": "bold", "fontStyle": "italic", "color": "#111111", "angle": -22, "align": "center", "baseline": "middle"},
      "encoding": {
        "x": {"field": "date", "type": "temporal", "scale": {"type": "utc", "domain": [{"year": 2016, "month": 1, "date": 1, "utc": true}, {"year": 2021, "month": 9, "date": 23, "utc": true}]}},
        "y": {"field": "p", "type": "quantitative", "scale": {"type": "log", "domain": [184.4, 95680], "nice": false, "zero": false}, "axis": null},
        "text": {"field": "label"}
      }
    },
    {
      "data": {"name": "notes"},
      "transform": [{"filter": "datum.name == 'price'"}],
      "mark": {"type": "text", "font": "Liberation Sans", "fontSize": 21, "fontWeight": "bold", "fontStyle": "italic", "color": "#111111", "angle": 8, "align": "center", "baseline": "middle"},
      "encoding": {
        "x": {"field": "date", "type": "temporal", "scale": {"type": "utc", "domain": [{"year": 2016, "month": 1, "date": 1, "utc": true}, {"year": 2021, "month": 9, "date": 23, "utc": true}]}},
        "y": {"field": "p", "type": "quantitative", "scale": {"type": "log", "domain": [184.4, 95680], "nice": false, "zero": false}, "axis": null},
        "text": {"field": "label"}
      }
    }
  ],
  "resolve": {"scale": {"y": "independent"}, "axis": {"y": "independent"}}
}
